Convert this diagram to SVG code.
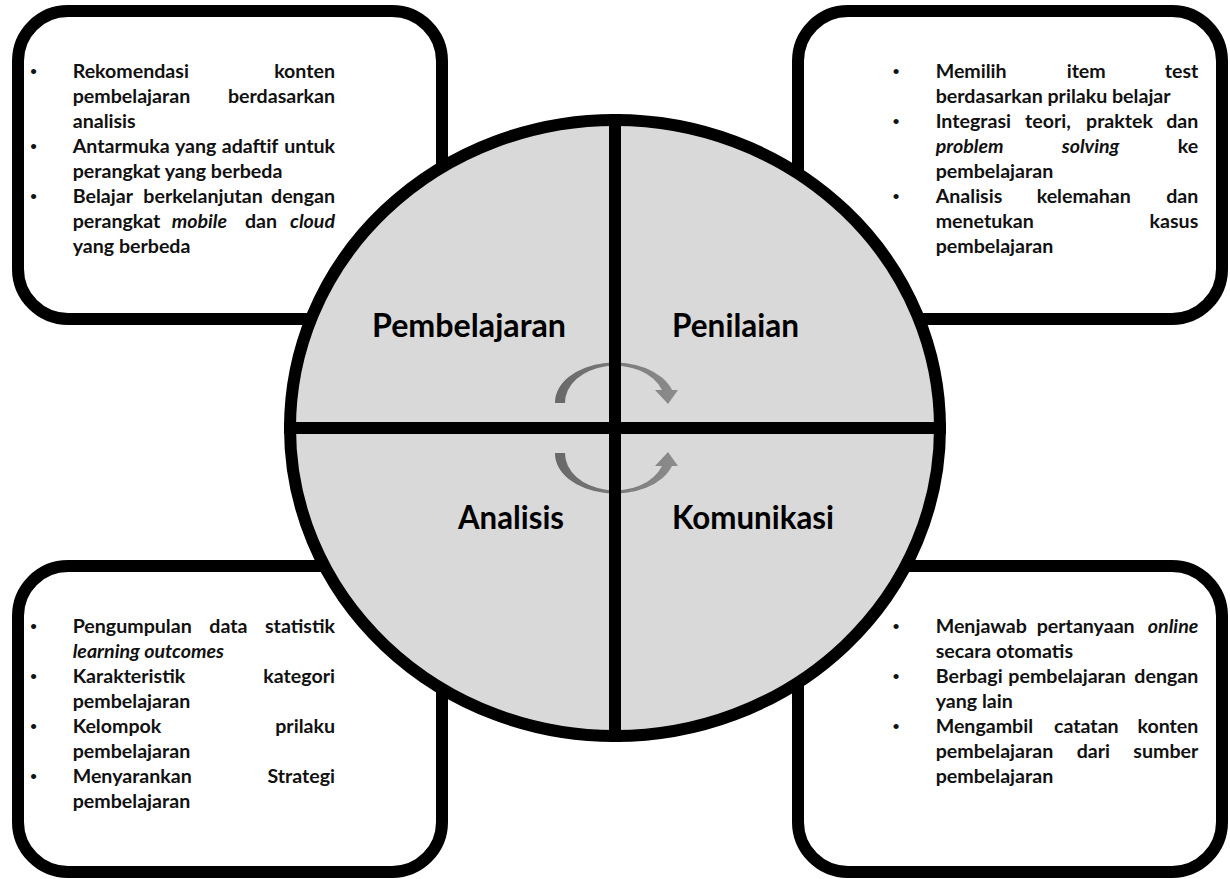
<svg xmlns="http://www.w3.org/2000/svg" width="1230" height="879" viewBox="0 0 1230 879">
<defs>
<style>
.box{fill:#ffffff;stroke:#000000;stroke-width:12}
.t{font-family:Lato,"Liberation Sans",sans-serif;font-weight:bold;font-size:19.6px;fill:#111111}
.e{text-anchor:end}
.i{font-style:italic}
.lbl{font-family:Lato,"Liberation Sans",sans-serif;font-weight:bold;font-size:32.5px;fill:#000000}
.b{font-family:"Liberation Sans",sans-serif;font-size:19px;fill:#111111;text-anchor:middle}
</style>
<linearGradient id="ag" x1="0" y1="0" x2="1" y2="0">
<stop offset="0" stop-color="#686868"/>
<stop offset="1" stop-color="#8c8c8c"/>
</linearGradient>
</defs>
<rect width="1230" height="879" fill="#ffffff"/>

<g id="box-tl">
<rect class="box" x="18" y="11" width="424" height="308" rx="50" ry="50"/>
<text class="b" x="33.5" y="78">•</text>
<text class="b" x="33.5" y="153">•</text>
<text class="b" x="33.5" y="203">•</text>
<text class="t" y="78"><tspan x="72.7">Rekomendasi</tspan><tspan class="e" x="335">konten</tspan></text>
<text class="t" y="103"><tspan x="72.7">pembelajaran</tspan><tspan class="e" x="335">berdasarkan</tspan></text>
<text class="t" x="72.7" y="128">analisis</text>
<text class="t" y="153"><tspan x="72.7">Antarmuka</tspan><tspan x="175">yang</tspan><tspan x="221.7">adaftif</tspan><tspan class="e" x="335">untuk</tspan></text>
<text class="t" x="72.7" y="178">perangkat yang berbeda</text>
<text class="t" y="203"><tspan x="72.7">Belajar</tspan><tspan x="143.3">berkelanjutan</tspan><tspan class="e" x="335">dengan</tspan></text>
<text class="t" y="228"><tspan x="72.7">perangkat</tspan><tspan class="i" x="171.7">mobile</tspan><tspan x="245">dan</tspan><tspan class="i e" x="335">cloud</tspan></text>
<text class="t" x="72.7" y="253">yang berbeda</text>
</g>

<g id="box-tr">
<rect class="box" x="798" y="11" width="424" height="308" rx="50" ry="50"/>
<text class="b" x="896" y="78">•</text>
<text class="b" x="896" y="128">•</text>
<text class="b" x="896" y="203">•</text>
<text class="t" y="78"><tspan x="935.7">Memilih</tspan><tspan x="1066.7">item</tspan><tspan class="e" x="1198.3">test</tspan></text>
<text class="t" x="935.7" y="103">berdasarkan prilaku belajar</text>
<text class="t" y="128"><tspan x="935.7">Integrasi</tspan><tspan x="1025">teori,</tspan><tspan x="1086">praktek</tspan><tspan class="e" x="1198.3">dan</tspan></text>
<text class="t" y="153"><tspan class="i" x="935.7">problem</tspan><tspan class="i" x="1061.7">solving</tspan><tspan class="e" x="1198.3">ke</tspan></text>
<text class="t" x="935.7" y="178">pembelajaran</text>
<text class="t" y="203"><tspan x="935.7">Analisis</tspan><tspan x="1036.7">kelemahan</tspan><tspan class="e" x="1198.3">dan</tspan></text>
<text class="t" y="228"><tspan x="935.7">menetukan</tspan><tspan class="e" x="1198.3">kasus</tspan></text>
<text class="t" x="935.7" y="253">pembelajaran</text>
</g>

<g id="box-bl">
<rect class="box" x="18" y="566" width="424" height="306" rx="50" ry="50"/>
<text class="b" x="33.5" y="633">•</text>
<text class="b" x="33.5" y="683">•</text>
<text class="b" x="33.5" y="733">•</text>
<text class="b" x="33.5" y="783">•</text>
<text class="t" y="633"><tspan x="72.7">Pengumpulan</tspan><tspan x="209.3">data</tspan><tspan class="e" x="335">statistik</tspan></text>
<text class="t i" x="72.7" y="658">learning outcomes</text>
<text class="t" y="683"><tspan x="72.7">Karakteristik</tspan><tspan class="e" x="335">kategori</tspan></text>
<text class="t" x="72.7" y="708">pembelajaran</text>
<text class="t" y="733"><tspan x="72.7">Kelompok</tspan><tspan class="e" x="335">prilaku</tspan></text>
<text class="t" x="72.7" y="758">pembelajaran</text>
<text class="t" y="783"><tspan x="72.7">Menyarankan</tspan><tspan class="e" x="335">Strategi</tspan></text>
<text class="t" x="72.7" y="808">pembelajaran</text>
</g>

<g id="box-br">
<rect class="box" x="798" y="566" width="424" height="306" rx="50" ry="50"/>
<text class="b" x="896" y="633">•</text>
<text class="b" x="896" y="683">•</text>
<text class="b" x="896" y="733">•</text>
<text class="t" y="633"><tspan x="935.7">Menjawab</tspan><tspan x="1036.7">pertanyaan</tspan><tspan class="i e" x="1198.3">online</tspan></text>
<text class="t" x="935.7" y="658">secara otomatis</text>
<text class="t" y="683"><tspan x="935.7">Berbagi</tspan><tspan x="1008.3">pembelajaran</tspan><tspan class="e" x="1198.3">dengan</tspan></text>
<text class="t" x="935.7" y="708">yang lain</text>
<text class="t" y="733"><tspan x="935.7">Mengambil</tspan><tspan x="1054">catatan</tspan><tspan class="e" x="1198.3">konten</tspan></text>
<text class="t" y="758"><tspan x="935.7">pembelajaran</tspan><tspan x="1076.7">dari</tspan><tspan class="e" x="1198.3">sumber</tspan></text>
<text class="t" x="935.7" y="783">pembelajaran</text>
</g>

<g id="cycle">
<ellipse cx="615" cy="428" rx="325" ry="308" fill="#d9d9d9"/>
</g>

<g id="connectors">
<path id="arrow-top" d="M 555 403 A 60 40 0 0 1 672 390 L 678 390 L 668 404 L 655 390 L 662 390 A 50 37 0 0 0 565 403 Z" fill="url(#ag)"/>
<path id="arrow-bottom" transform="translate(0,856) scale(1,-1)" d="M 555 403 A 60 40 0 0 1 672 390 L 678 390 L 668 404 L 655 390 L 662 390 A 50 37 0 0 0 565 403 Z" fill="url(#ag)"/>
</g>

<g id="cycle-lines">
<line x1="615" y1="114" x2="615" y2="742" stroke="#000" stroke-width="12"/>
<line x1="284" y1="428" x2="946" y2="428" stroke="#000" stroke-width="12"/>
<ellipse cx="615" cy="428" rx="325" ry="308" fill="none" stroke="#000" stroke-width="12"/>
</g>

<g id="q-pembelajaran"><text class="lbl" x="372" y="337" textLength="194" lengthAdjust="spacingAndGlyphs">Pembelajaran</text></g>
<g id="q-penilaian"><text class="lbl" x="672" y="337" textLength="127" lengthAdjust="spacingAndGlyphs">Penilaian</text></g>
<g id="q-analisis"><text class="lbl" x="458" y="529" textLength="106" lengthAdjust="spacingAndGlyphs">Analisis</text></g>
<g id="q-komunikasi"><text class="lbl" x="672" y="529" textLength="162" lengthAdjust="spacingAndGlyphs">Komunikasi</text></g>
</svg>
